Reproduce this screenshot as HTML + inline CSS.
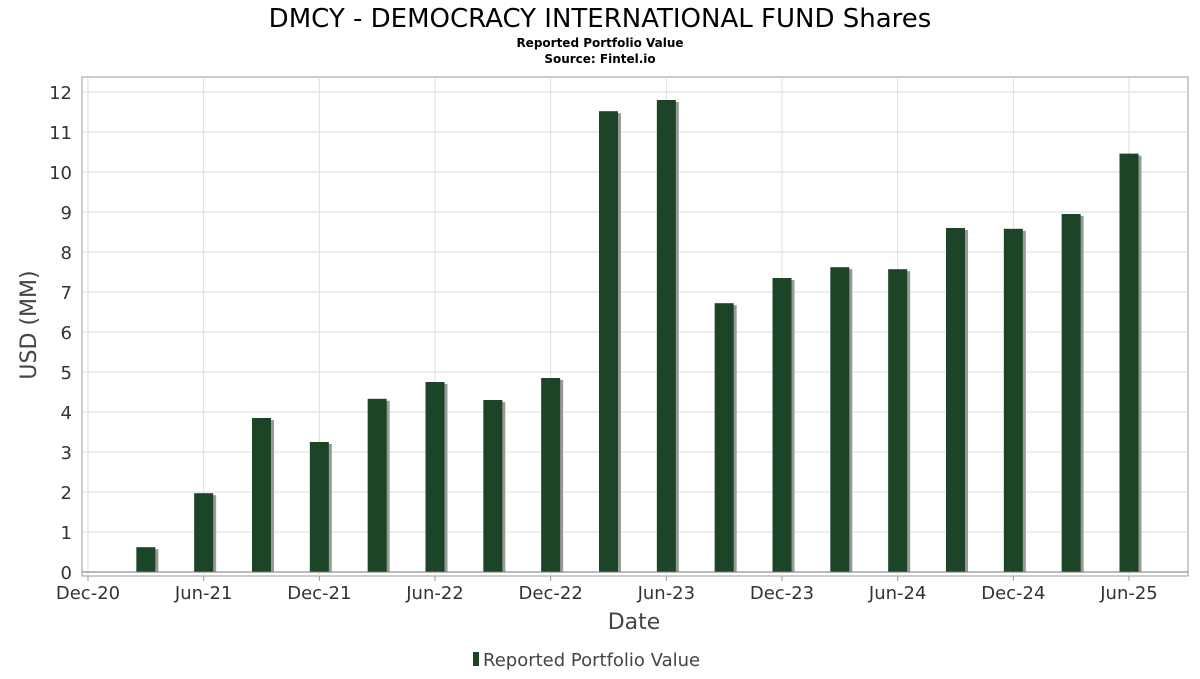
<!DOCTYPE html>
<html><head><meta charset="utf-8"><style>
body{margin:0;background:#fff;font-family:"DejaVu Sans","Liberation Sans",sans-serif}
</style></head><body>
<svg id="c" width="1200" height="675" xmlns="http://www.w3.org/2000/svg">
<text x="600" y="27" text-anchor="middle" font-size="26" fill="#000">DMCY - DEMOCRACY INTERNATIONAL FUND Shares</text>
<text x="600" y="47" text-anchor="middle" font-size="12" font-weight="bold">Reported Portfolio Value</text>
<text x="600" y="63" text-anchor="middle" font-size="12" font-weight="bold">Source: Fintel.io</text>
<rect x="82" y="77" width="1106" height="499" fill="#fff" stroke="#999"/>
<g id="grid"></g><g id="bars"></g><g id="axes"></g>
<text x="634" y="629" text-anchor="middle" font-size="22" fill="#444">Date</text>
<text transform="translate(36,325) rotate(-90)" text-anchor="middle" font-size="22" fill="#444">USD (MM)</text>
<g>
<rect x="473" y="652" width="6" height="14" fill="#1c4426"/>
<text x="483" y="666" font-size="18" fill="#444">Reported Portfolio Value</text>
</g>
</svg>
<script>
const dates=["2021-03","2021-06","2021-09","2021-12","2022-03","2022-06","2022-09","2022-12","2023-03","2023-06","2023-09","2023-12","2024-03","2024-06","2024-09","2024-12","2025-03","2025-06"];
const values=[0.62,1.97,3.85,3.25,4.33,4.75,4.30,4.85,11.52,11.80,6.72,7.35,7.62,7.57,8.60,8.58,8.95,10.46];
const yTicks=[0,1,2,3,4,5,6,7,8,9,10,11,12];
const xTickLabels=["Dec-20","Jun-21","Dec-21","Jun-22","Dec-22","Jun-23","Dec-23","Jun-24","Dec-24","Jun-25"];
const xTickDates=["2020-12","2021-06","2021-12","2022-06","2022-12","2023-06","2023-12","2024-06","2024-12","2025-06"];
const NS="http://www.w3.org/2000/svg";
function mIdx(d){const[a,b]=d.split("-").map(Number);return (a-2020)*12+b-12;}
function xS(d){return 88+mIdx(d)*(1129-88)/54;}
function yS(v){return 572-v*40;}
function mk(t,a,p){const e=document.createElementNS(NS,t);for(const k in a)e.setAttribute(k,a[k]);p.appendChild(e);return e;}
const grid=document.getElementById("grid"),bars=document.getElementById("bars"),axes=document.getElementById("axes");
yTicks.forEach(v=>{
 const l=mk("line",{x1:82,x2:1188,y1:yS(v),y2:yS(v),stroke:"#ddd"},grid);
 
 
 const t=mk("text",{x:72,y:yS(v)+7,"text-anchor":"end","font-size":18,fill:"#333"},axes);
 t.textContent=v;
 
 
});
xTickDates.forEach((d,i)=>{
 const x=xS(d);
 const l=mk("line",{x1:x,x2:x,y1:77,y2:576,stroke:"#ddd"},grid);
 
 
 const tk=mk("line",{x1:x,x2:x,y1:576,y2:581,stroke:"#999"},axes);
 
 
 const t=mk("text",{x:x,y:599,"text-anchor":"middle","font-size":18,fill:"#333"},axes);
 t.textContent=xTickLabels[i];
 
 
});
const z=mk("line",{x1:82,x2:1188,y1:572,y2:572,stroke:"#777"},axes);


dates.forEach((d,i)=>{
 const x=xS(d)-9.5,y=yS(values[i]),h=572-y;
 const s=mk("rect",{x:x+3,y:y+2,width:19,height:h-2,fill:"#999"},bars);
 
 
 const b=mk("rect",{x:x,y:y,width:19,height:h,fill:"#1c4426"},bars);
 
 
});
</script>
</body></html>
